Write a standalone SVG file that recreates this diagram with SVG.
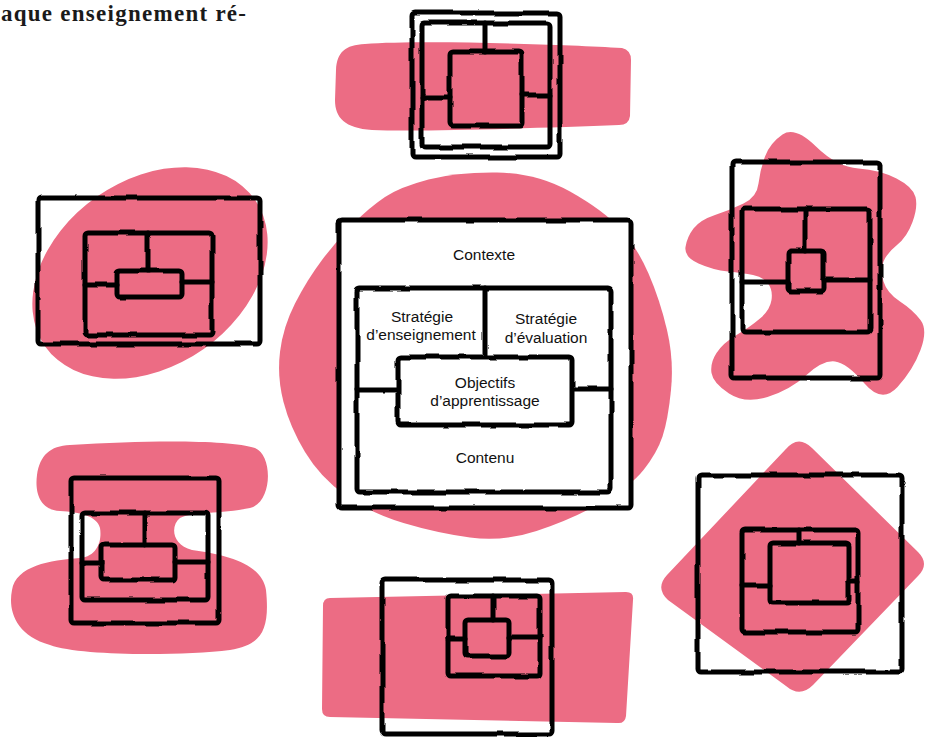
<svg xmlns="http://www.w3.org/2000/svg" width="928" height="737" viewBox="0 0 928 737">
<style>
.pink{fill:#EC6C84;stroke:none}
.ln{fill:none;stroke:#000;stroke-width:5;stroke-linecap:round;stroke-linejoin:round}
.wf{fill:#fff}
.t{font-family:"Liberation Sans","Noto Sans",sans-serif;font-size:15.5px;fill:#111;text-anchor:middle}
.hdr{font-family:"Liberation Serif","Times New Roman",serif;font-weight:bold;font-size:23px;fill:#1a1a1a}
</style>
<defs>
<filter id="rough" filterUnits="userSpaceOnUse" x="0" y="0" width="928" height="737">
<feTurbulence type="fractalNoise" baseFrequency="0.035" numOctaves="2" seed="4" result="n"/>
<feDisplacementMap in="SourceGraphic" in2="n" scale="3.5" xChannelSelector="R" yChannelSelector="G"/>
</filter>
</defs>
<rect width="928" height="737" fill="#fff"/>
<text class="hdr" x="1" y="21" textLength="245" lengthAdjust="spacing">aque enseignement ré-</text>

<g id="blobs">
<path class="pink" d="M 385,197 Q 400,187 428.5,179.5 Q 457,172 497,172.5 Q 537,173 570,191.5 Q 603,210 620,228.5 Q 637,247 648.5,273.5 Q 660,300 667,330 Q 674,360 671,390 Q 668,420 662.5,436.5 Q 657,453 643.5,470 Q 630,487 600,503.5 Q 570,520 536.5,531 Q 503,542 470,537.5 Q 437,533 403.5,523 Q 370,513 345,495 Q 320,477 305,452 Q 290,427 283.5,402 Q 277,377 280,352 Q 283,327 295,303.5 Q 307,280 322,260 Q 337,240 353.5,223.5 Q 370,207 385,197 Z"/>
<path class="pink" d="M 365,44 C 420,40 560,44 622,48 Q 631,50 631,60 L 630,116 Q 629,125 619,125 C 540,128 420,132 372,130 C 345,128 335,118 335,100 L 336,70 C 337,52 345,45 365,44 Z"/>
<ellipse class="pink" cx="150" cy="273" rx="128" ry="93" transform="rotate(-35 150 273)"/>
<path class="pink" d="M 782.5,134.5 Q 795,126 816,146.5 Q 837,167 858.5,168.5 Q 880,170 896.5,178.5 Q 913,187 915.5,197 Q 918,207 912.5,222 Q 907,237 897,245 Q 887,253 883.5,261.5 Q 880,270 883.5,281.5 Q 887,293 900,301.5 Q 913,310 920.5,320 Q 928,330 920.5,350 Q 913,370 897.5,387 Q 882,404 864.5,383.5 Q 847,363 835,361.5 Q 823,360 806.5,375 Q 790,390 767.5,397 Q 745,404 729,393.5 Q 713,383 711.5,373 Q 710,363 716.5,353 Q 723,343 736.5,335 Q 750,327 760,318.5 Q 770,310 771.5,300 Q 773,290 768,283.5 Q 763,277 753,275 Q 743,273 728,271.5 Q 713,270 698.5,263.5 Q 684,257 685.5,247 Q 687,237 693.5,228.5 Q 700,220 715,215 Q 730,210 743.5,203.5 Q 757,197 758.5,183.5 Q 760,170 765,156.5 Q 770,143 782.5,134.5 Z"/>
<path class="pink" d="M 70,445 C 150,440 230,440 255,448 C 273,455 273,502 250,508 C 220,514 192,512 180,518 C 170,526 172,545 192,550 C 230,555 262,565 266,590 C 270,630 262,645 230,650 C 180,656 80,656 50,645 C 15,635 8,610 12,590 C 16,566 50,560 80,558 C 98,556 102,540 100,528 C 97,516 80,512 60,511 C 38,510 35,490 37,475 C 40,455 50,446 70,445 Z"/>
<path class="pink" d="M 330,598 L 626,592 Q 634,592 633,600 L 626,716 Q 625,724 617,723 L 330,717 Q 322,717 322,709 L 323,606 Q 323,598 330,598 Z"/>
<path class="pink" d="M 785,450 Q 798,434 812,448 L 918,552 Q 930,564 918,576 L 813,685 Q 800,698 786,686 L 668,600 Q 655,588 667,575 Z"/>
</g>

<g id="node-top" filter="url(#rough)">
<rect class="ln" x="412" y="13" width="148" height="144" rx="3"/>
<rect class="ln" x="422" y="23" width="128" height="124" rx="3"/>
<path class="ln" d="M485,23 V52 M422,97 H450 M522,95 H550"/>
<rect class="ln" x="450" y="52" width="72" height="74" rx="3"/>
</g>

<g id="node-top-left" filter="url(#rough)">
<rect class="ln" x="38" y="198" width="222" height="146" rx="3"/>
<rect class="ln" x="85" y="233" width="127" height="102" rx="3"/>
<path class="ln" d="M148,233 V271 M85,285 H117 M182,282 H212"/>
<rect class="ln" x="117" y="271" width="65" height="26" rx="3"/>
</g>

<g id="node-right" filter="url(#rough)">
<rect class="ln" x="732" y="162" width="148" height="216" rx="3"/>
<rect class="ln" x="742" y="209" width="128" height="123" rx="3"/>
<path class="ln" d="M805,209 V251 M742,282 H788 M824,280 H870"/>
<rect class="ln" x="788" y="251" width="36" height="40" rx="3"/>
</g>

<g id="node-bottom-left" filter="url(#rough)">
<rect class="ln" x="71" y="478" width="148" height="145" rx="3"/>
<rect class="ln" x="82" y="513" width="126" height="87" rx="3"/>
<path class="ln" d="M145,513 V545 M82,563 H102 M175,562 H208"/>
<rect class="ln" x="102" y="545" width="73" height="35" rx="3"/>
</g>

<g id="node-bottom" filter="url(#rough)">
<rect class="ln" x="382" y="580" width="170" height="154" rx="3"/>
<rect class="ln" x="448" y="596" width="92" height="80" rx="3"/>
<path class="ln" d="M493,596 V620 M448,639 H465 M509,637 H540"/>
<rect class="ln" x="465" y="620" width="44" height="36" rx="3"/>
</g>

<g id="node-bottom-right" filter="url(#rough)">
<rect class="ln" x="698" y="475" width="204" height="197" rx="3"/>
<rect class="ln" x="742" y="530" width="116" height="102" rx="3"/>
<path class="ln" d="M799,530 V543 M742,585 H770 M849,582 H858"/>
<rect class="ln" x="770" y="543" width="79" height="60" rx="3"/>
</g>

<g id="node-center">
<g filter="url(#rough)">
<rect class="ln wf" x="339" y="220" width="292" height="288" rx="3"/>
<rect class="ln" x="357" y="288" width="254" height="204" rx="3"/>
<path class="ln" d="M485,288 V357 M357,390 H398 M572,389 H611"/>
<rect class="ln wf" x="398" y="357" width="174" height="68" rx="3"/>
</g>
<text class="t" x="484" y="260">Contexte</text>
<text class="t" x="422" y="322">Stratégie</text>
<text class="t" x="421" y="340">d’enseignement</text>
<text class="t" x="546" y="324">Stratégie</text>
<text class="t" x="546" y="343">d’évaluation</text>
<text class="t" x="485" y="388">Objectifs</text>
<text class="t" x="485" y="406">d’apprentissage</text>
<text class="t" x="485" y="463">Contenu</text>
</g>
<g id="connectors"/>
</svg>
